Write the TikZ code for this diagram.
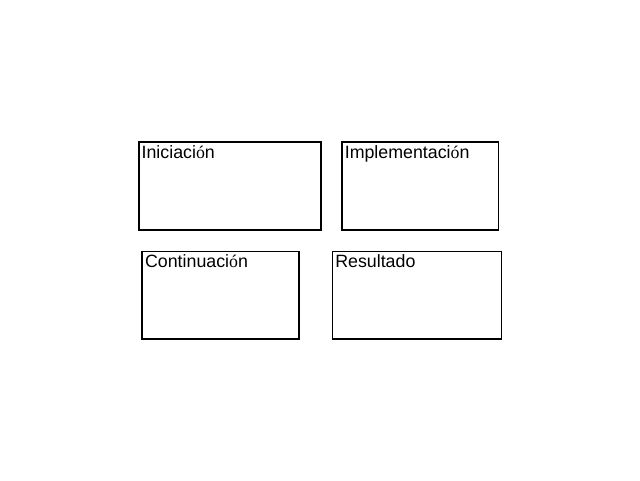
\documentclass[tikz,border=0pt]{standalone}
\usepackage{fontspec}
\setmainfont{Liberation Sans}
\newfontfamily\serifo{Liberation Serif}
\newcommand{\oac}{{\serifo ó}}
\begin{document}
\begin{tikzpicture}[x=1pt,y=-1pt,
  boxstyle/.style={draw=black,line width=1.9pt,inner sep=0pt,rectangle,anchor=north west},
  lbl/.style={anchor=base west,inner sep=0pt,font=\fontsize{17.8}{20}\selectfont}]
\useasboundingbox (0,0) rectangle (640,480);
\node[boxstyle,minimum width=182pt,minimum height=88pt] (b1) at (137.8,141) {};
\node[boxstyle,minimum width=156.5pt,minimum height=88pt] (b2) at (341,141) {};
\node[boxstyle,minimum width=156.3pt,minimum height=87.8pt] (b3) at (141.3,250.5) {};
\node[boxstyle,minimum width=169pt,minimum height=87.8pt] (b4) at (331.5,250.5) {};
\node[lbl] (t1) at ([xshift=3.6pt,yshift=-17.4pt]b1.north west) {Iniciaci\oac n};
\node[lbl] (t2) at ([xshift=3.6pt,yshift=-17.4pt]b2.north west) {Implementaci\oac n};
\node[lbl] (t3) at ([xshift=3.6pt,yshift=-17.4pt]b3.north west) {Continuaci\oac n};
\node[lbl] (t4) at ([xshift=3.6pt,yshift=-17.4pt]b4.north west) {Resultado};
\end{tikzpicture}
\end{document}
